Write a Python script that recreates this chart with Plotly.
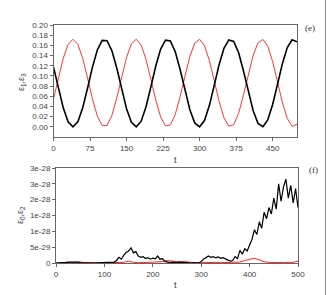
import plotly.graph_objects as go

# ---- panel (e): eps1 (black), eps3 (red) ----
t_top = list(range(0, 501, 10))
eps1 = [0.1172, 0.0762, 0.0375, 0.0099, 0.0000, 0.0099, 0.0375, 0.0762, 0.1172, 0.1510,
        0.1698, 0.1692, 0.1493, 0.1149, 0.0737, 0.0354, 0.0088, 0.0000, 0.0111, 0.0396,
        0.0787, 0.1195, 0.1526, 0.1703, 0.1685, 0.1476, 0.1125, 0.0713, 0.0334, 0.0077,
        0.0001, 0.0124, 0.0417, 0.0812, 0.1218, 0.1542, 0.1708, 0.1678, 0.1459, 0.1101,
        0.0688, 0.0315, 0.0067, 0.0003, 0.0137, 0.0438, 0.0837, 0.1240, 0.1556, 0.1711,
        0.1670]
eps3 = [0.0548, 0.0958, 0.1345, 0.1621, 0.1720, 0.1621, 0.1345, 0.0958, 0.0548, 0.0210,
        0.0022, 0.0028, 0.0227, 0.0571, 0.0983, 0.1366, 0.1632, 0.1720, 0.1609, 0.1324,
        0.0933, 0.0525, 0.0194, 0.0017, 0.0035, 0.0244, 0.0595, 0.1007, 0.1386, 0.1643,
        0.1719, 0.1596, 0.1303, 0.0908, 0.0502, 0.0178, 0.0012, 0.0042, 0.0261, 0.0619,
        0.1032, 0.1405, 0.1653, 0.1717, 0.1583, 0.1282, 0.0883, 0.0480, 0.0164, 0.0009,
        0.0050]
top_xticks = [0, 75, 150, 225, 300, 375, 450]
top_yticks = [0.00, 0.02, 0.04, 0.06, 0.08, 0.10, 0.12, 0.14, 0.16, 0.18, 0.20]

# ---- panel (f): eps0 (black), eps2 (red), in units of 1e-28 ----
t_bot_black = list(range(0, 501, 5))
eps0_e28 = [0, 0, 0, 0.005, 0.02, 0.03, 0.02, 0.03, 0.025, 0.03,
            0.01, 0.005, 0, 0.005, 0, 0.005, 0, 0.005, 0.01, 0.005,
            0.01, 0.02, 0.015, 0.04, 0.03, 0.08, 0.18, 0.12, 0.25, 0.33,
            0.38, 0.48, 0.32, 0.36, 0.22, 0.18, 0.2, 0.14, 0.17, 0.12,
            0.15, 0.13, 0.22, 0.12, 0.14, 0.05, 0.02, 0.01, 0.03, 0.02,
            0.01, 0.03, 0.01, 0.02, 0.01, 0.02, 0.0, 0.01, 0.01, 0.0,
            0.05, 0.13, 0.17, 0.22, 0.18, 0.2, 0.16, 0.19, 0.15, 0.17,
            0.13, 0.1, 0.06, 0.08, 0.2, 0.14, 0.4, 0.28, 0.45, 0.38,
            0.55, 0.75, 1.05, 0.9, 1.3, 1.1, 1.6, 1.4, 1.75, 1.55,
            2.05, 1.7, 2.5, 1.95, 2.4, 2.65, 2.05, 2.45, 1.9, 2.35,
            1.75]
t_bot_red = list(range(0, 501, 10))
eps2_e28 = [0, 0.005, 0.01, 0.005, 0.01, 0.03, 0.01, 0.005, 0.01, 0.005,
            0.01, 0.01, 0.02, 0.015, 0.02, 0.06, 0.02, 0.01, 0.015, 0.02,
            0.01, 0.02, 0.04, 0.08, 0.05, 0.04, 0.05, 0.03, 0.01, 0.005,
            0.01, 0.02, 0.01, 0.02, 0.01, 0.02, 0.01, 0.02, 0.03, 0.08,
            0.12, 0.15, 0.1, 0.04, 0.02, 0.01, 0.015, 0.02, 0.01, 0.02,
            0.06]
bot_xticks = [0, 100, 200, 300, 400, 500]
bot_yticks = [0, 5e-29, 1e-28, 1.5e-28, 2e-28, 2.5e-28, 3e-28]
bot_yticklabels = ["0", "5e-29", "1e-28", "1e-28", "2e-28", "3e-28", "3e-28"]

eps0 = [v * 1e-28 for v in eps0_e28]
eps2 = [v * 1e-28 for v in eps2_e28]

W, H = 327, 295
FONT = "Arial"
SERIF = "Liberation Serif"
TICKC = "#444444"
LINEC = "#666666"

fig = go.Figure()
fig.add_trace(go.Scatter(x=t_top, y=eps3, mode="lines",
                         line=dict(color="#ff3535", width=1),
                         xaxis="x", yaxis="y", showlegend=False, hoverinfo="skip"))
fig.add_trace(go.Scatter(x=t_top, y=eps1, mode="lines",
                         line=dict(color="black", width=1.6),
                         xaxis="x", yaxis="y", showlegend=False, hoverinfo="skip"))
fig.add_trace(go.Scatter(x=t_bot_red, y=eps2, mode="lines", line=dict(color="#ff2020", width=1),
                         xaxis="x2", yaxis="y2", showlegend=False, hoverinfo="skip"))
fig.add_trace(go.Scatter(x=t_bot_black, y=eps0, mode="lines", line=dict(color="black", width=1.2),
                         xaxis="x2", yaxis="y2", showlegend=False, hoverinfo="skip"))

axcommon = dict(showgrid=False, zeroline=False, showline=True, linecolor=LINEC, linewidth=1,
                mirror=True, ticks="outside", ticklen=3, tickcolor=LINEC, automargin=False,
                tickfont=dict(family=FONT, size=8, color=TICKC))

fig.update_layout(
    width=W, height=H, margin=dict(l=0, r=0, t=0, b=0, pad=0), autosize=False,
    paper_bgcolor="white", plot_bgcolor="white",
    xaxis=dict(domain=[53.5 / W, 297 / W], range=[0, 500], tickvals=top_xticks, anchor="y", **axcommon),
    yaxis=dict(domain=[1 - 137 / H, 1 - 25 / H], range=[-0.02, 0.2], tickvals=top_yticks,
               tickformat=".2f", anchor="x", **axcommon),
    xaxis2=dict(domain=[56 / W, 298 / W], range=[0, 500], tickvals=bot_xticks, anchor="y2", **axcommon),
    yaxis2=dict(domain=[1 - 263 / H, 1 - 168 / H], range=[0, 3e-28], tickvals=bot_yticks,
                ticktext=bot_yticklabels, anchor="x2", **axcommon),
    font=dict(family=FONT, size=9, color="#333333"),
)

ann = [
    dict(text="t", x=175 / W, y=1 - 160 / H, font=dict(family=FONT, size=9, color="#333333")),
    dict(text="t", x=176 / W, y=1 - 285 / H, font=dict(family=FONT, size=9, color="#333333")),
    dict(text="ε<sub>1</sub>,ε<sub>3</sub>", x=21 / W, y=1 - 82 / H, textangle=-90,
         font=dict(family=FONT, size=9, color="#333333")),
    dict(text="ε<sub>0</sub>,ε<sub>2</sub>", x=21 / W, y=1 - 215 / H, textangle=-90,
         font=dict(family=FONT, size=9, color="#333333")),
    dict(text="(e)", x=310 / W, y=1 - 28 / H, font=dict(family=SERIF, size=9, color="#333333")),
    dict(text="(f)", x=313 / W, y=1 - 170 / H, font=dict(family=SERIF, size=9, color="#333333")),
]
for a in ann:
    fig.add_annotation(xref="paper", yref="paper", showarrow=False, xanchor="center", yanchor="middle", **a)

fig.add_shape(type="line", xref="paper", yref="paper", x0=325.5 / W, x1=325.5 / W, y0=0, y1=1,
              line=dict(color="#888888", width=1))

fig.write_html("out.html", config={"displayModeBar": False, "staticPlot": True},
               post_script="document.body.style.margin='0';document.body.style.overflow='hidden';")
